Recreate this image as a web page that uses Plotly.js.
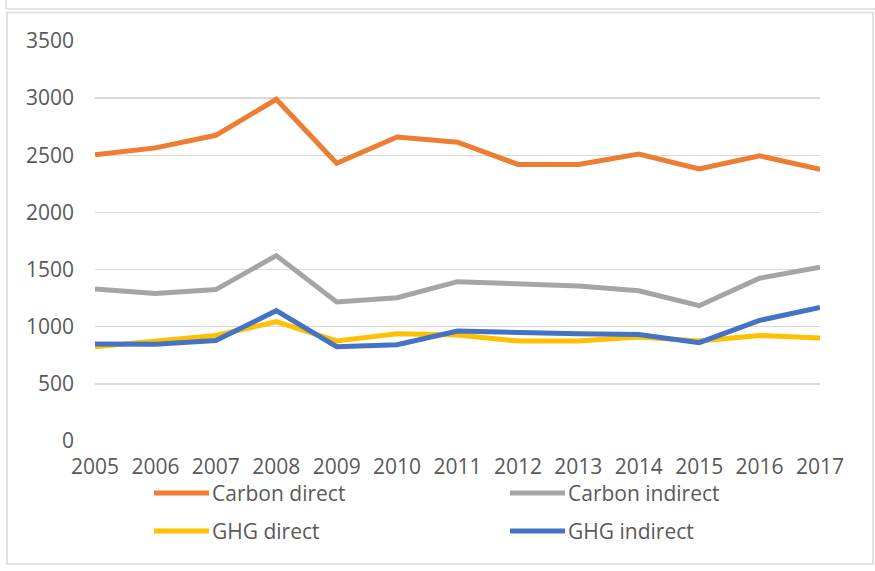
<!DOCTYPE html>
<html>
<head>
<meta charset="utf-8">
<script src="https://cdn.plot.ly/plotly-3.0.1.min.js"></script>
<style>
  html, body { margin: 0; padding: 0; background: #ffffff; }
  #chart { width: 875px; height: 571px; }
</style>
</head>
<body>
<div id="chart"></div>
<script>
const years = [2005, 2006, 2007, 2008, 2009, 2010, 2011, 2012, 2013, 2014, 2015, 2016, 2017];
const seriesNames = ["Carbon direct", "Carbon indirect", "GHG direct", "GHG indirect"];
const carbonDirect   = [2505, 2565, 2675, 2990, 2430, 2660, 2615, 2420, 2420, 2510, 2380, 2495, 2378];
const carbonIndirect = [1331, 1290, 1325, 1622, 1216, 1254, 1394, 1374, 1356, 1315, 1184, 1424, 1520];
const ghgDirect      = [ 825,  871,  923, 1044,  875,  939,  927,  874,  874,  910,  875,  923,  901];
const ghgIndirect    = [ 849,  846,  879, 1140,  825,  843,  962,  948,  939,  932,  860, 1055, 1168];
const yTicks = [0, 500, 1000, 1500, 2000, 2500, 3000, 3500];
const colors = ["#ED7D31", "#A5A5A5", "#FFC000", "#4472C4"];

const allSeries = [carbonDirect, carbonIndirect, ghgDirect, ghgIndirect];

const W = 875, H = 571;
const L = 95, R = 55, T = 41, B = 130;
const plotW = W - L - R, plotH = H - T - B;
const px = v => (v - L) / plotW;
const py = v => (H - B - v) / plotH;

const FONT = "Open Sans, Noto Sans, DejaVu Sans, sans-serif";
const TXT = "#595959";

const traces = allSeries.map((vals, i) => ({
  type: "scatter",
  mode: "lines",
  x: years,
  y: vals,
  name: seriesNames[i],
  line: { color: colors[i], width: 5 },
  hoverinfo: "x+y+name"
}));

const shapes = [
  // upper neighbouring frame edge
  { type: "line", xref: "paper", yref: "paper", x0: px(6), x1: px(875), y0: py(9), y1: py(9), line: { color: "#DCDCDC", width: 1.5 } },
  { type: "line", xref: "paper", yref: "paper", x0: px(6), x1: px(6), y0: py(0), y1: py(9), line: { color: "#DCDCDC", width: 1.5 } },
  // chart frame
  { type: "rect", xref: "paper", yref: "paper", x0: px(7), x1: px(873), y0: py(12.5), y1: py(564), line: { color: "#D9D9D9", width: 1.5 }, fillcolor: "rgba(0,0,0,0)", layer: "below" }
];
const annotations = [];

// legend entries (two columns, two rows)
const legPos = [
  { x: 154, y: 493 }, { x: 510, y: 493 },
  { x: 154, y: 531 }, { x: 510, y: 531 }
];
seriesNames.forEach((nm, i) => {
  const p = legPos[i];
  shapes.push({
    type: "line", xref: "paper", yref: "paper",
    x0: px(p.x), x1: px(p.x + 55), y0: py(p.y), y1: py(p.y),
    line: { color: colors[i], width: 5 }
  });
  annotations.push({
    xref: "paper", yref: "paper", x: px(p.x + 57), y: py(p.y),
    xanchor: "left", yanchor: "middle", showarrow: false, borderpad: 0,
    text: nm, font: { family: FONT, size: 21, color: TXT }
  });
});

const layout = {
  width: W, height: H,
  margin: { l: L, r: R, t: T, b: B, pad: 0 },
  paper_bgcolor: "#ffffff",
  plot_bgcolor: "#ffffff",
  showlegend: false,
  font: { family: FONT, size: 21, color: TXT },
  xaxis: {
    range: [2005, 2017],
    tickvals: years,
    ticktext: years.map(String),
    showgrid: false,
    zeroline: false,
    showline: false,
    ticks: "",
    ticklabelstandoff: 11,
    tickfont: { family: FONT, size: 21, color: TXT },
    fixedrange: true
  },
  yaxis: {
    range: [0, 3500],
    tickvals: yTicks,
    ticktext: yTicks.map(String),
    showgrid: true,
    gridcolor: "#D9D9D9",
    gridwidth: 1.5,
    zeroline: false,
    showline: false,
    ticks: "",
    ticklabelstandoff: 20,
    tickfont: { family: FONT, size: 21, color: TXT },
    fixedrange: true
  },
  shapes: shapes,
  annotations: annotations
};

Plotly.newPlot("chart", traces, layout, { displayModeBar: false, staticPlot: true });
</script>
</body>
</html>
